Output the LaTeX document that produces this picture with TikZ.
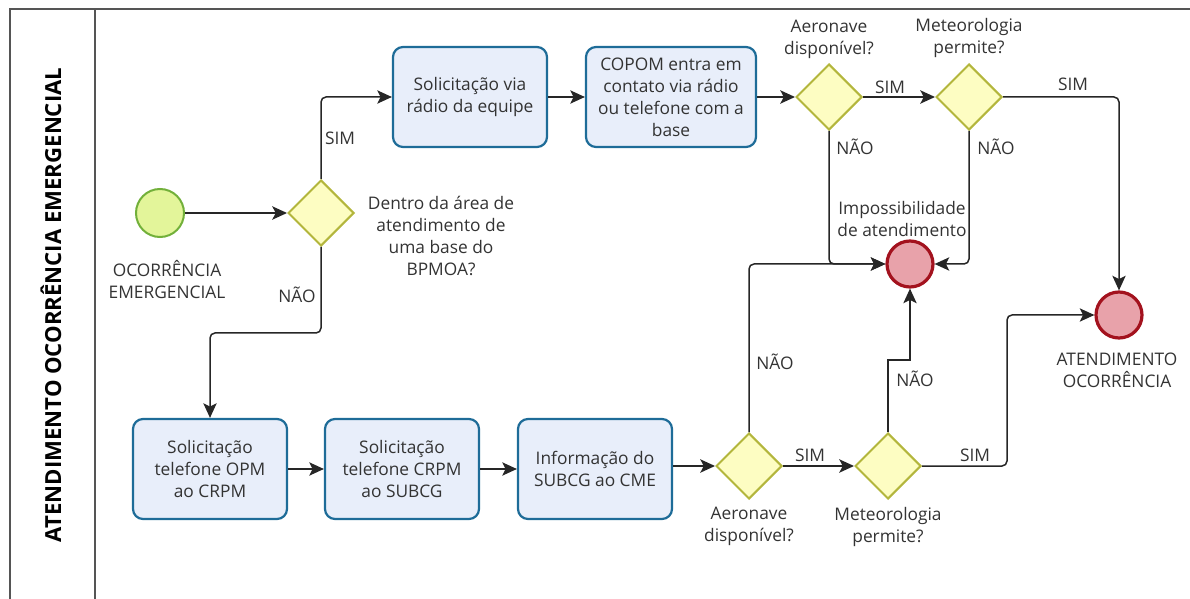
\documentclass[tikz,border=0pt]{standalone}
\usepackage{fontspec}
\setmainfont{Open Sans}
\usetikzlibrary{shapes.geometric,arrows.meta}
\newdimen\pxu
\pxu=0.75pt
\definecolor{txt}{HTML}{333333}
\definecolor{taskfill}{HTML}{E8EEFA}
\definecolor{taskdraw}{HTML}{1E6C98}
\definecolor{gwfill}{HTML}{FDFDC2}
\definecolor{gwdraw}{HTML}{B3B63C}
\definecolor{stfill}{HTML}{E3F59A}
\definecolor{stdraw}{HTML}{72B03A}
\definecolor{enfill}{HTML}{E8A2AA}
\definecolor{endraw}{HTML}{A3121E}
\definecolor{frame}{HTML}{555555}
\tikzset{
  every node/.style={text=txt, font=\fontsize{13}{16.5}\selectfont},
  taskbox/.style={draw=taskdraw, fill=taskfill, line width=2.2\pxu, rounded corners=10\pxu,
    minimum width=154\pxu, minimum height=100\pxu, align=center, inner sep=2pt},
  gw/.style={diamond, draw=gwdraw, fill=gwfill, line width=2\pxu, minimum width=66\pxu,
    minimum height=66\pxu, inner sep=0pt},
  startev/.style={circle, draw=stdraw, fill=stfill, line width=2\pxu, minimum size=48\pxu, inner sep=0pt},
  endev/.style={circle, draw=endraw, fill=enfill, line width=3.2\pxu, minimum size=46\pxu, inner sep=0pt},
  lbl/.style={align=center, inner sep=0pt},
  flow/.style={draw=black!85, line width=1.5\pxu, rounded corners=5\pxu,
    -{Stealth[length=11pt, width=10pt, inset=2.5pt]}},
}
\begin{document}
\begin{tikzpicture}[x=\pxu, y=-\pxu]
\useasboundingbox (0,0) rectangle (1190,599);
% frame
\draw[frame, line width=2\pxu] (10,599) -- (10,9) -- (1190,9);
\draw[frame, line width=1.5\pxu] (95,9) -- (95,599);
\node[rotate=90, font=\bfseries\fontsize{16.6}{18}\selectfont, text=black] (title) at (51,305) {ATENDIMENTO OCORRÊNCIA EMERGENCIAL};

% nodes
\node[startev] (start) at (160,213) {};
\node[lbl] (startl) at (167,280) {OCORRÊNCIA\\EMERGENCIAL};
\node[gw] (g1) at (321,213) {};
\node[lbl] (g1l) at (441,236) {Dentro da área de\\atendimento de\\uma base do\\BPMOA?};

\node[taskbox] (t1) at (470,97) {Solicitação via\\rádio da equipe};
\node[taskbox, minimum width=170\pxu] (t2) at (671,97) {COPOM entra em\\contato via rádio\\ou telefone com a\\base};
\node[gw] (g2) at (829,97) {};
\node[lbl] (g2l) at (829,39) {Aeronave\\disponível?};
\node[gw] (g3) at (969,97) {};
\node[lbl] (g3l) at (969,38) {Meteorologia\\permite?};

\node[endev] (imp) at (910,264) {};
\node[lbl] (impl) at (902,219) {Impossibilidade\\de atendimento};
\node[endev] (fim) at (1119,315) {};
\node[lbl] (fiml) at (1117,370) {ATENDIMENTO\\OCORRÊNCIA};

\node[taskbox] (t3) at (210,469) {Solicitação\\telefone OPM\\ao CRPM};
\node[taskbox] (t4) at (402,469) {Solicitação\\telefone CRPM\\ao SUBCG};
\node[taskbox] (t5) at (595,469) {Informação do\\SUBCG ao CME};
\node[gw] (g4) at (749,466) {};
\node[lbl] (g4l) at (749,526) {Aeronave\\disponível?};
\node[gw] (g5) at (888,466) {};
\node[lbl] (g5l) at (888,527) {Meteorologia\\permite?};

% flows
\draw[flow] (start) -- (g1);
\draw[flow] (g1.north) |- (t1.west);
\draw[flow] (g1.south) |- (210,333) -- (t3.north);
\draw[flow] (t1) -- (t2);
\draw[flow] (t2.east) -- (g2.west);
\draw[flow] (g2) -- (g3);
\draw[flow] (g3.east) -| (fim.north);
\draw[flow] (g2.south) |- (imp.west);
\draw[flow] (g3.south) |- (imp.east);
\draw[flow] (t3) -- (t4);
\draw[flow] (t4) -- (t5);
\draw[flow] (t5.east |- g4) -- (g4.west);
\draw[flow] (g4) -- (g5);
\draw[flow] (g4.north) |- (imp.west);
\draw[flow, rounded corners=0pt] (g5.north) |- (910,360) -- (imp.south);
\draw[flow] (g5.east) -- (1007,466) |- (fim.west);

% labels on flows
\node[lbl] (l1) at (340,138) {SIM};
\node[lbl] (l2) at (297,295) {NÃO};
\node[lbl] (l3) at (890,87) {SIM};
\node[lbl] (l4) at (1073,84) {SIM};
\node[lbl] (l5) at (855,147) {NÃO};
\node[lbl] (l6) at (996,147) {NÃO};
\node[lbl] (l7) at (775,362) {NÃO};
\node[lbl] (l8) at (810,455) {SIM};
\node[lbl] (l9) at (915,379) {NÃO};
\node[lbl] (l10) at (975,455) {SIM};
\end{tikzpicture}
\end{document}
